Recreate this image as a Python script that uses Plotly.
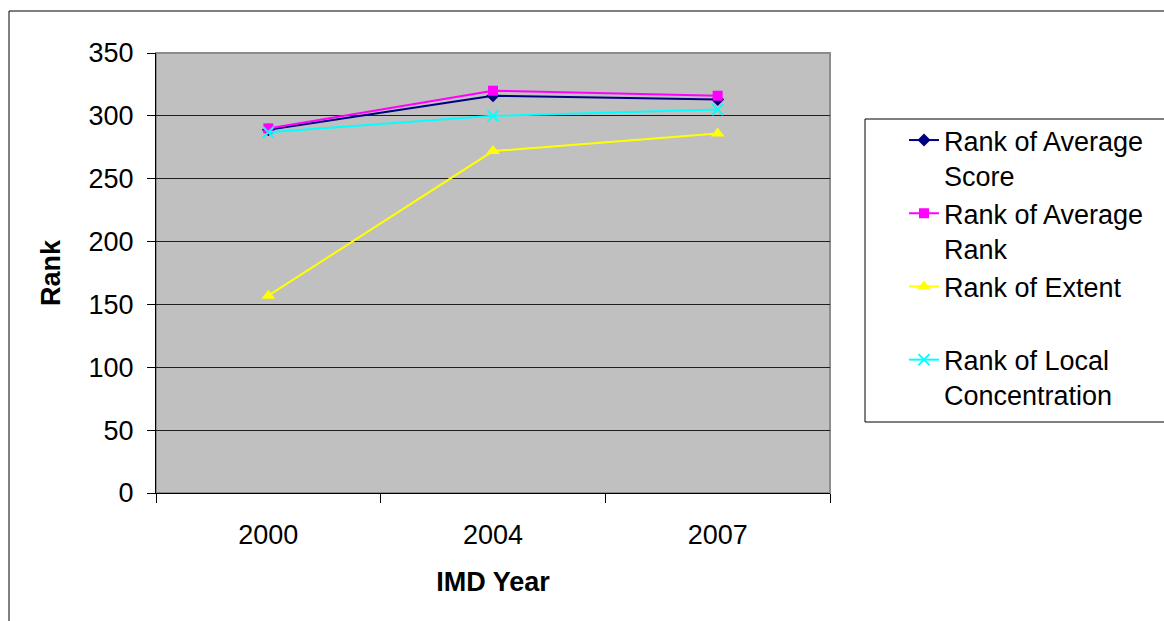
import plotly.graph_objects as go

# IMD years on the category axis
years = ["2000", "2004", "2007"]

# Ranks per measure
rank_avg_score = [289, 316, 313]
rank_avg_rank = [290, 320, 316]
rank_extent = [157, 272, 286]
rank_local_conc = [287, 300, 305]

series_names = [
    "Rank of Average<br>Score",
    "Rank of Average<br>Rank",
    "Rank of Extent<br>&nbsp;",
    "Rank of Local<br>Concentration",
]

y_ticks = [0, 50, 100, 150, 200, 250, 300, 350]

FONT = "Arial, Liberation Sans, sans-serif"
W, H = 1164, 621
L, R, T, B = 156, 830, 53, 493  # plot area in pixels


def px_x(px):
    return (px - L) / (R - L)


def px_y(py):
    return (B - py) / (B - T)


styles = [
    dict(color="#000080", symbol="diamond", size=10, lw=None),
    dict(color="#FF00FF", symbol="square", size=10, lw=None),
    dict(color="#FFFF00", symbol="triangle-up", size=12, lw=None),
    dict(color="#00FFFF", symbol="x-thin", size=11, lw=2),
]

fig = go.Figure()
for name, vals, st in zip(series_names,
                          [rank_avg_score, rank_avg_rank, rank_extent, rank_local_conc],
                          styles):
    marker = dict(symbol=st["symbol"], size=st["size"], color=st["color"])
    if st["lw"]:
        marker["line"] = dict(color=st["color"], width=st["lw"])
    fig.add_trace(go.Scatter(
        x=years, y=vals, name=name, mode="lines+markers",
        line=dict(color=st["color"], width=2),
        marker=marker,
    ))

shapes = [
    # outer chart frame
    dict(type="rect", xref="paper", yref="paper",
         x0=px_x(9), x1=px_x(1175), y0=px_y(640), y1=px_y(11),
         line=dict(color="#000000", width=1), layer="below"),
    # plot area border
    dict(type="rect", xref="paper", yref="paper",
         x0=0, x1=1, y0=0, y1=1,
         line=dict(color="#8c8c8c", width=2), layer="below"),
    # legend frame
    dict(type="rect", xref="paper", yref="paper",
         x0=px_x(865), x1=px_x(1175), y0=px_y(422), y1=px_y(119),
         line=dict(color="#000000", width=1)),
]

fig.update_layout(
    width=W, height=H,
    margin=dict(l=L, r=W - R, t=T, b=H - B, pad=0),
    paper_bgcolor="#FFFFFF",
    plot_bgcolor="#C0C0C0",
    font=dict(family=FONT, size=27, color="#000000"),
    showlegend=True,
    legend=dict(
        x=px_x(904), y=px_y(116), xanchor="left", yanchor="top",
        bgcolor="rgba(0,0,0,0)", borderwidth=0,
        valign="top", font=dict(family=FONT, size=27, color="#000000"),
        itemwidth=30, tracegroupgap=0,
    ),
    shapes=shapes,
    xaxis=dict(
        type="category", range=[-0.5, 2.5],
        showgrid=False, zeroline=False,
        showline=True, linecolor="#000000", linewidth=1,
        ticks="outside", tickson="boundaries", ticklen=9,
        tickcolor="#000000", tickwidth=1,
        ticklabelstandoff=18,
        tickfont=dict(family=FONT, size=27),
        title=dict(text="<b>IMD Year</b>", font=dict(family=FONT, size=27), standoff=22),
    ),
    yaxis=dict(
        range=[0, 350], tickvals=y_ticks,
        showgrid=True, gridcolor="#1e1e1e", gridwidth=1,
        zeroline=False,
        showline=True, linecolor="#000000", linewidth=1,
        ticks="outside", ticklen=8, tickcolor="#000000", tickwidth=1,
        ticklabelstandoff=8,
        tickfont=dict(family=FONT, size=27),
        title=dict(text="<b>Rank</b>", font=dict(family=FONT, size=27), standoff=20),
    ),
)

fig.write_html("out.html")
